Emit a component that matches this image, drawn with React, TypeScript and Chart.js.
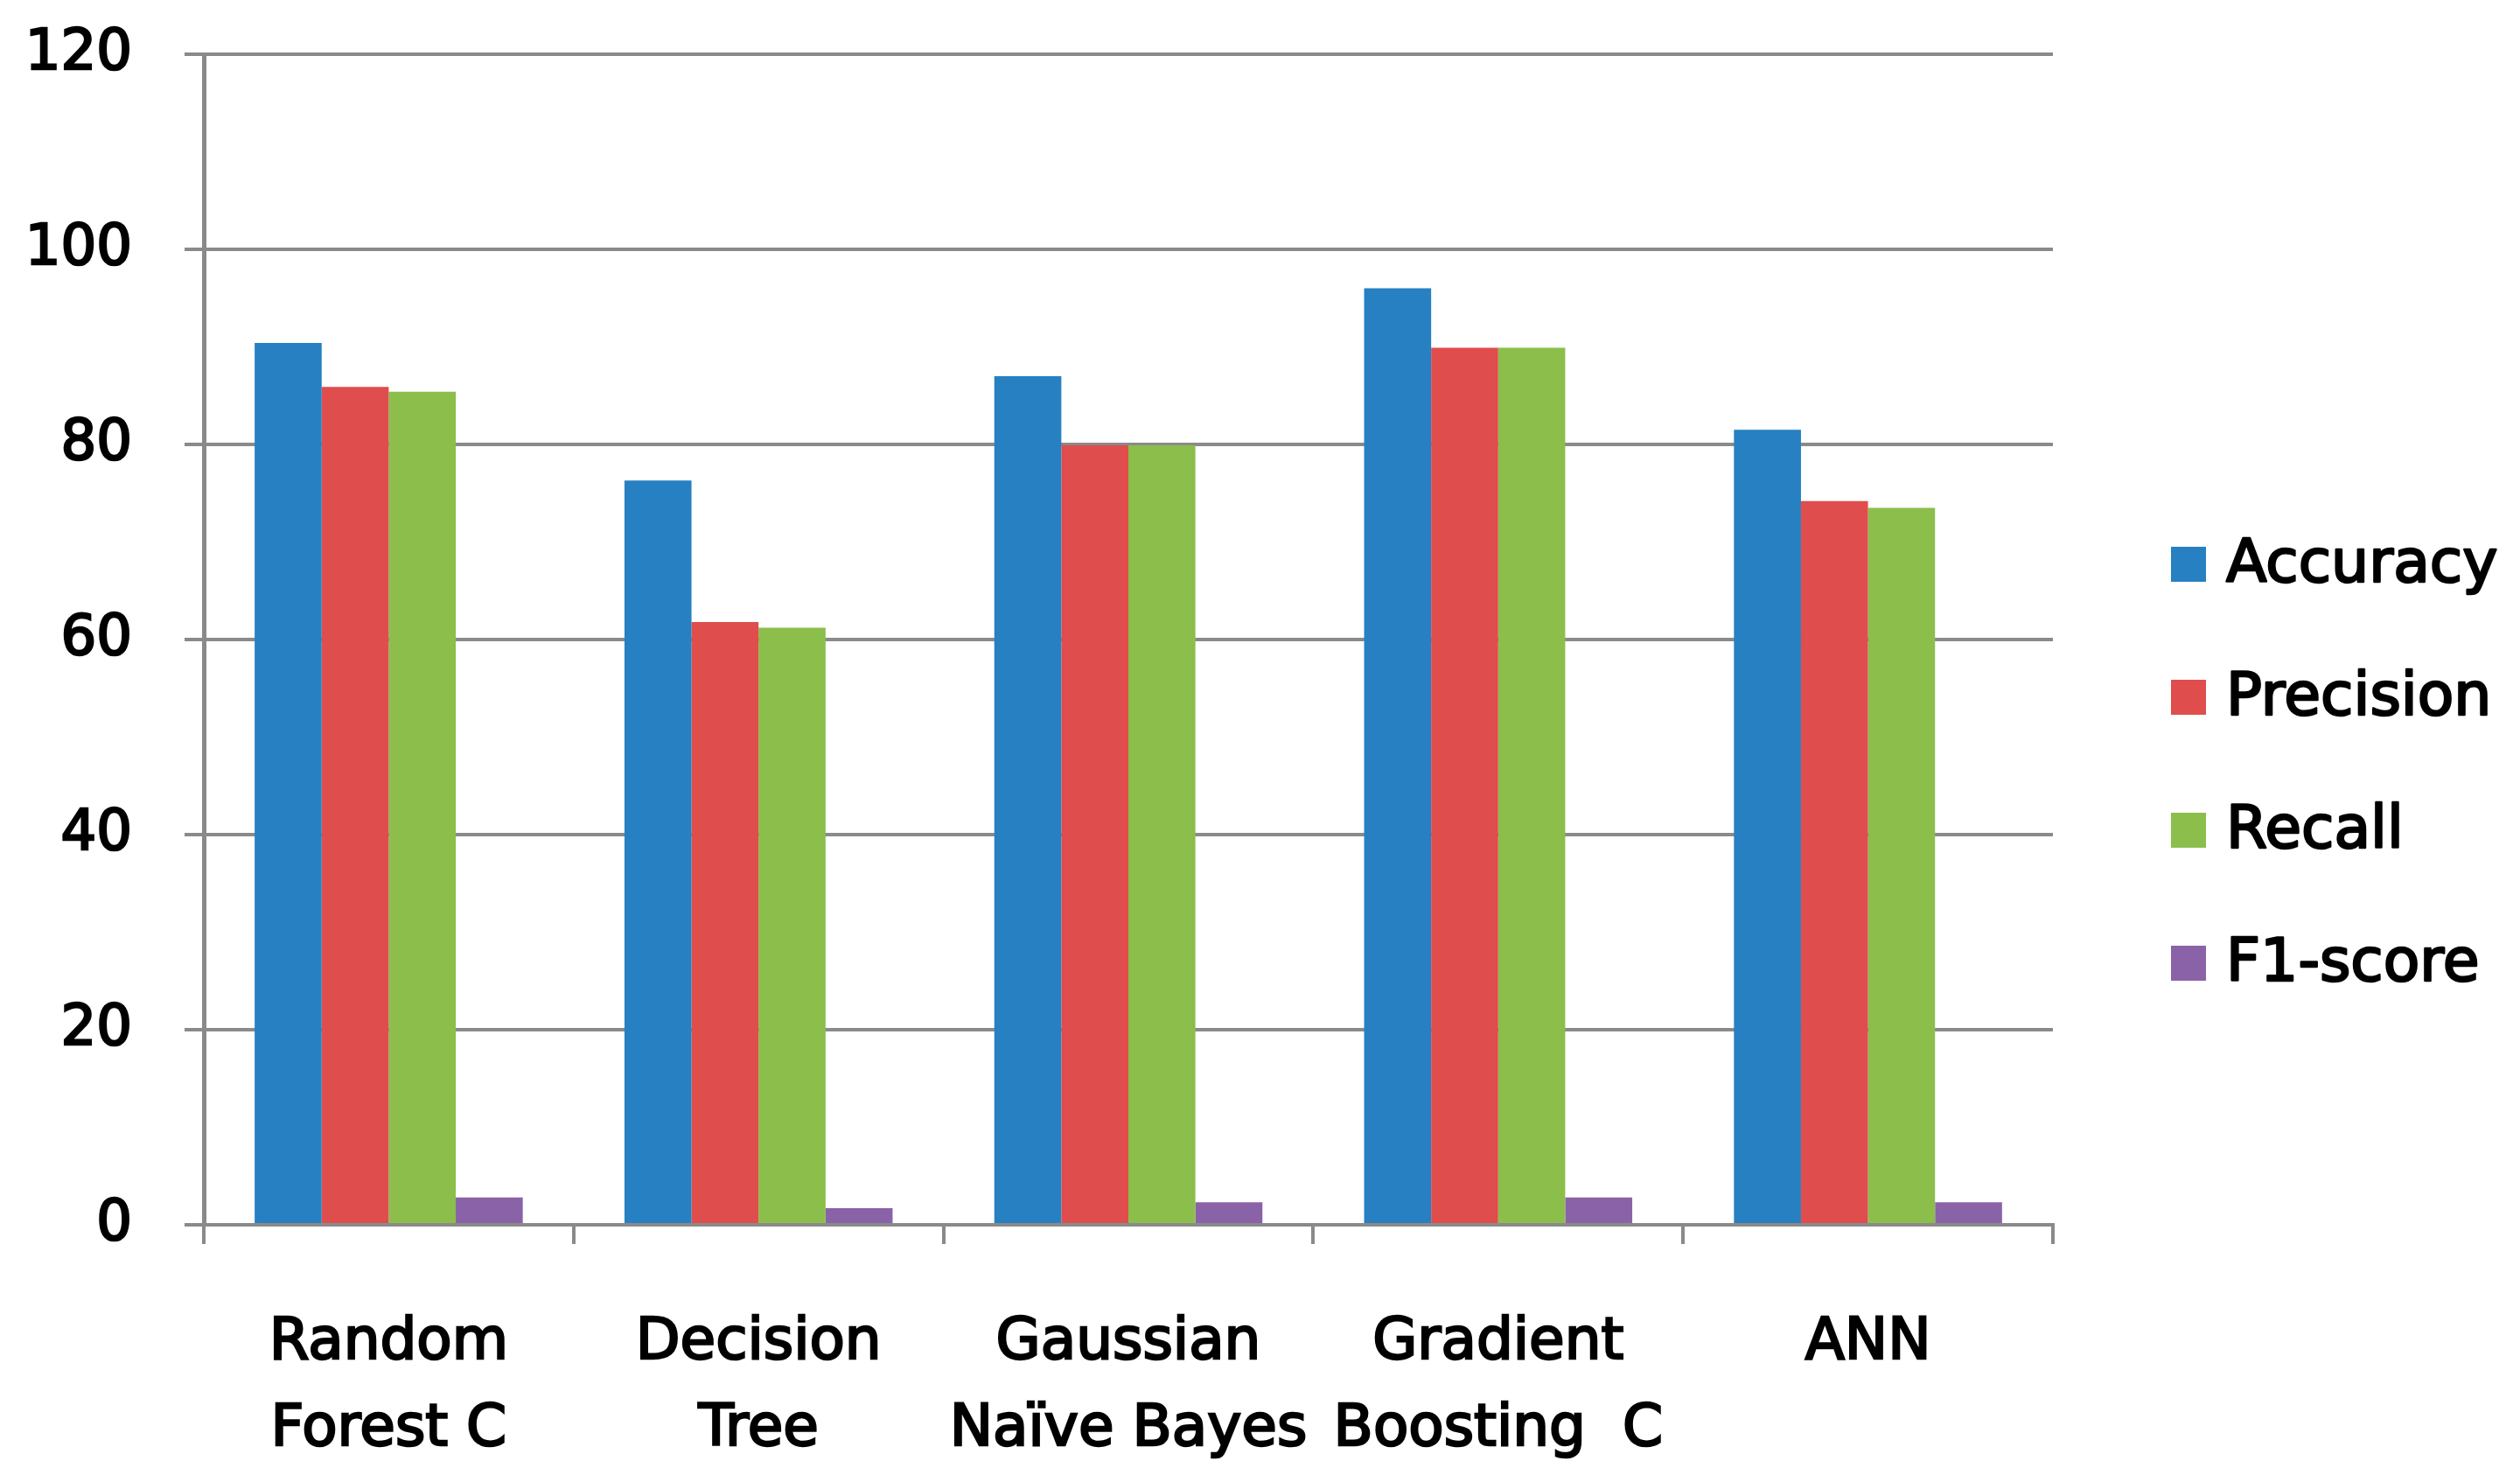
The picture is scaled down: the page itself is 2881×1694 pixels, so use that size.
import React, { useEffect, useRef } from "react";
import { Chart, registerables } from "chart.js";

Chart.register(...registerables);

const categories: (string | string[])[] = [
  ["Random", "Forest C"],
  ["Decision", "Tree"],
  ["Gaussian", "Naïve Bayes"],
  ["Gradient", "Boosting  C"],
  "ANN",
];

const seriesNames = ["Accuracy", "Precision", "Recall", "F1-score"];
const accuracy = [90.4, 76.3, 87.0, 96.0, 81.5];
const precision = [85.9, 61.8, 79.9, 89.9, 74.2];
const recall = [85.4, 61.2, 79.9, 89.9, 73.5];
const f1score = [2.8, 1.7, 2.3, 2.8, 2.3];
const seriesColors = ["#2680C2", "#DF4D4D", "#8BBE4B", "#8A62A8"];
const yTicks = [0, 20, 40, 60, 80, 100, 120];

const W = 2881;
const H = 1694;
const FONT = '"DejaVu Sans", Verdana, sans-serif';
const GRID = "#8A8A8A";

const sideLegend = {
  id: "sideLegend",
  afterDraw(chart: any) {
    const ctx = chart.ctx;
    ctx.save();
    ctx.font = `68px ${FONT}`;
    ctx.textBaseline = "middle";
    ctx.textAlign = "left";
    ctx.lineJoin = "round";
    chart.data.datasets.forEach((ds: any, i: number) => {
      const cy = 645 + i * 152;
      ctx.fillStyle = ds.backgroundColor;
      ctx.fillRect(2482, cy - 20, 40, 40);
      ctx.fillStyle = "#000";
      ctx.strokeStyle = "#000";
      ctx.lineWidth = 2.5;
      ctx.strokeText(ds.label, 2545, cy + 2);
      ctx.fillText(ds.label, 2545, cy + 2);
    });
    ctx.restore();
  },
};

export default function App() {
  const ref = useRef<HTMLCanvasElement | null>(null);

  useEffect(() => {
    document.body.style.margin = "0";
    const canvas = ref.current;
    if (!canvas) return;
    const values = [accuracy, precision, recall, f1score];
    const chart = new Chart(canvas, {
      type: "bar",
      data: {
        labels: categories,
        datasets: seriesNames.map((name, i) => ({
          label: name,
          data: values[i],
          backgroundColor: seriesColors[i],
          borderWidth: 0,
          barPercentage: 1,
          categoryPercentage: 0.725,
        })),
      },
      options: {
        responsive: false,
        animation: false,
        devicePixelRatio: 1,
        layout: { padding: { top: 62, right: 534, left: 0, bottom: 0 } },
        plugins: {
          legend: { display: false },
          tooltip: { enabled: false },
        },
        scales: {
          x: {
            grid: {
              display: true,
              drawOnChartArea: false,
              drawTicks: true,
              tickLength: 22,
              color: GRID,
              lineWidth: 4,
              offset: true,
            },
            border: { display: true, color: GRID, width: 4 },
            ticks: {
              color: "#000",
              font: { family: FONT, size: 66, lineHeight: 1.5 },
              padding: 64,
              maxRotation: 0,
              autoSkip: false,
              textStrokeColor: "#000",
              textStrokeWidth: 2.5,
            },
            afterFit: (s: any) => {
              s.height = 294;
              s.paddingLeft = 0;
              s.paddingRight = 0;
            },
          },
          y: {
            min: 0,
            max: 120,
            afterBuildTicks: (s: any) => {
              s.ticks = yTicks.map((v) => ({ value: v }));
            },
            grid: {
              color: GRID,
              lineWidth: 4,
              tickLength: 22,
              drawTicks: true,
            },
            border: { display: true, color: GRID, width: 5 },
            ticks: {
              color: "#000",
              font: { family: FONT, size: 64 },
              padding: 60,
              textStrokeColor: "#000",
              textStrokeWidth: 2.5,
            },
            afterFit: (s: any) => {
              s.width = 233;
              s.paddingTop = 0;
              s.paddingBottom = 0;
            },
          },
        },
      },
      plugins: [sideLegend],
    });
    return () => chart.destroy();
  }, []);

  return (
    <div style={{ width: W, height: H, background: "#fff" }}>
      <canvas ref={ref} width={W} height={H} style={{ display: "block" }} />
    </div>
  );
}
